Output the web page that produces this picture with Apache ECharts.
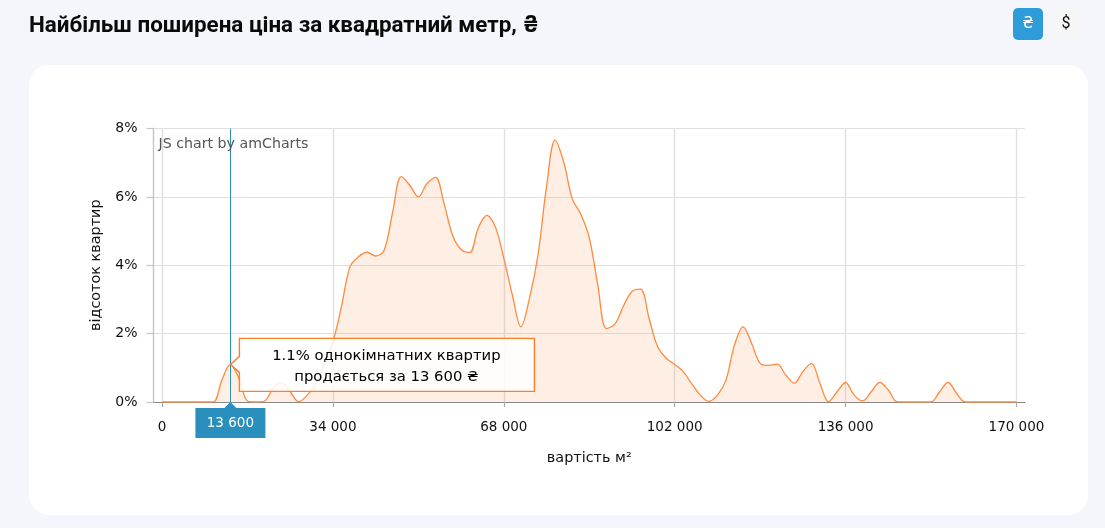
<!DOCTYPE html>
<html>
<head>
<meta charset="utf-8">
<style>html,body{margin:0;padding:0;background:#f4f6fb}#c{width:1105px;height:528px}</style>
<script src="https://cdn.jsdelivr.net/npm/echarts@6/dist/echarts.min.js"></script>
</head>
<body>
<div id="c"></div>
<script>
var titleText = 'Найбільш поширена ціна за квадратний метр, ₴';
var priceStep = 1700;
var priceFirst = -1700;
var priceCount = 103;
var tickEvery = 34000;
var percentValues = [
  0,0,0,0,0,0,0,0.64,1.1,0.69,
  0.03,0,0.03,0.4,0.56,0.3,0.01,0.2,0.54,1.13,
  1.76,2.79,3.96,4.25,4.38,4.27,4.44,5.57,6.59,6.34,
  6.0,6.39,6.57,5.81,4.88,4.46,4.37,5.08,5.46,5.13,
  4.2,3.13,2.2,3.03,4.3,6.3,7.66,7.03,5.95,5.5,
  4.81,3.42,2.15,2.28,2.81,3.23,3.3,2.45,1.62,1.28,
  1.1,0.89,0.53,0.2,0.02,0.2,0.64,1.67,2.2,1.72,
  1.13,1.07,1.11,0.79,0.55,0.89,1.13,0.55,0.01,0.3,
  0.57,0.2,0.03,0.3,0.57,0.35,0.01,0,0,0,
  0,0.3,0.57,0.25,0,0,0,0,0,0,0
];
var activePrice = 13600;
var activePercent = 1.1;
var yName = 'відсоток квартир';
var xName = 'вартість м²';
var credit = 'JS chart by amCharts';
var currencies = ['₴', '$'];

var fontUI = '"DejaVu Sans", Verdana, sans-serif';
var orange = '#ff8a3d';
var blue = '#2a8fbd';

function spaced(v){ return String(v).replace(/\B(?=(\d{3})+$)/g, ' '); }
var categories = [];
for (var i = 0; i < priceCount; i++) categories.push(String(priceFirst + i * priceStep));
var seriesData = [null].concat(percentValues, [null]);
function isTick(index, value){ var n = Number(value); return n >= 0 && n % tickEvery === 0; }

var chart = echarts.init(document.getElementById('c'));
chart.setOption({
  animation: false,
  backgroundColor: '#f4f6fb',
  title: { text: titleText, left: 29, top: 15, padding: 0,
    textStyle: { fontFamily: 'Roboto, Inter, "DejaVu Sans"', fontWeight: 700, fontSize: 22.4, color: '#0b0b0b' } },
  grid: { left: 153.5, right: 80, top: 128.5, bottom: 126, containLabel: false },
  xAxis: {
    type: 'category', boundaryGap: false, data: categories,
    name: xName, nameLocation: 'middle', nameGap: 49,
    nameTextStyle: { fontFamily: fontUI, fontSize: 14.4, color: '#111' },
    axisLine: { show: true, lineStyle: { color: '#888', width: 1.2 } },
    axisTick: { show: true, interval: isTick, length: 5, lineStyle: { color: '#aaa', width: 1.2 } },
    axisLabel: { interval: isTick, margin: 18, fontFamily: fontUI, fontSize: 13.5, color: '#111',
      hideOverlap: false,
      formatter: function(v){ return spaced(v); } },
    splitLine: { show: true, interval: isTick, lineStyle: { color: '#e0e0e0', width: 1.4 } }
  },
  yAxis: {
    type: 'value', min: 0, max: 8, interval: 2,
    name: yName, nameLocation: 'middle', nameGap: 50, nameRotate: 90,
    nameTextStyle: { fontFamily: fontUI, fontSize: 14.4, color: '#111' },
    axisLine: { show: true, lineStyle: { color: '#c4c4c4', width: 1.4 } },
    axisTick: { show: true, length: 7, lineStyle: { color: '#c4c4c4', width: 1.2 } },
    axisLabel: { margin: 16, padding: [5, 0, 0, 0], fontFamily: fontUI, fontSize: 14, color: '#111', formatter: '{value}%' },
    splitLine: { show: true, lineStyle: { color: '#e0e0e0', width: 1.2 } }
  },
  series: [{
    type: 'line', data: seriesData, smooth: 0.35, showSymbol: false, connectNulls: false,
    lineStyle: { color: orange, width: 1.3 },
    areaStyle: { color: '#f57c2a', opacity: 0.13 },
    itemStyle: { color: orange },
    silent: true,
    markLine: { silent: true, symbol: 'none', label: { show: false },
      lineStyle: { color: blue, width: 1, type: 'solid' },
      data: [{ xAxis: String(activePrice) }] }
  }]
});

var tip = chart.convertToPixel({ seriesIndex: 0 }, [String(activePrice), activePercent]);
var base = chart.convertToPixel({ seriesIndex: 0 }, [String(activePrice), 0]);
var boxL = tip[0] + 9, boxR = tip[0] + 304, boxT = tip[1] - 26, boxB = tip[1] + 27;
var tagL = base[0] - 35, tagR = base[0] + 35, tagT = base[1] + 6, tagB = base[1] + 36;

chart.setOption({
  graphic: [
    { type: 'rect', z: -10, silent: true, shape: { x: 29, y: 65, width: 1059, height: 450, r: 20 },
      style: { fill: '#ffffff' } },
    { type: 'rect', z: 10, shape: { x: 1013, y: 8, width: 30, height: 32, r: 5 }, style: { fill: '#2d9cd8' } },
    { type: 'text', z: 11, x: 1028, y: 24, style: { text: currencies[0], fill: '#ffffff',
      font: '15px "DejaVu Sans"', textAlign: 'center', textVerticalAlign: 'middle' } },
    { type: 'rect', z: 10, shape: { x: 1051, y: 8, width: 30, height: 32, r: 5 }, style: { fill: '#f6f6f6' } },
    { type: 'text', z: 11, x: 1066, y: 24, style: { text: currencies[1], fill: '#0b0b0b',
      font: '16px Roboto', textAlign: 'center', textVerticalAlign: 'middle' } },
    { type: 'text', z: 20, x: 158.5, y: 144, style: { text: credit, fill: '#555555',
      font: '14.2px "DejaVu Sans"', textAlign: 'left', textVerticalAlign: 'middle' } },
    { type: 'polygon', z: 30, shape: { points: [
        [boxL, boxT], [boxR, boxT], [boxR, boxB], [boxL, boxB],
        [boxL, tip[1] + 8], [tip[0], tip[1]], [boxL, tip[1] - 8]
      ] }, style: { fill: 'rgba(255,255,255,0.85)', stroke: '#ff7f27', lineWidth: 1.4 } },
    { type: 'text', z: 31, x: (boxL + boxR) / 2 - 0.5, y: (boxT + boxB) / 2 + 2, style: {
        text: activePercent + '% однокімнатних квартир\nпродається за ' + spaced(activePrice) + ' ₴',
        fill: '#000000', font: '14.8px "DejaVu Sans"', lineHeight: 21,
        textAlign: 'center', textVerticalAlign: 'middle' } },
    { type: 'polygon', z: 30, shape: { points: [
        [tagL, tagT], [base[0] - 6, tagT], [base[0], base[1]], [base[0] + 6, tagT],
        [tagR, tagT], [tagR, tagB], [tagL, tagB]
      ] }, style: { fill: blue } },
    { type: 'text', z: 31, x: base[0], y: (tagT + tagB) / 2, style: { text: spaced(activePrice),
        fill: '#ffffff', font: '13.5px "DejaVu Sans"', textAlign: 'center', textVerticalAlign: 'middle' } }
  ]
});
</script>
</body>
</html>
